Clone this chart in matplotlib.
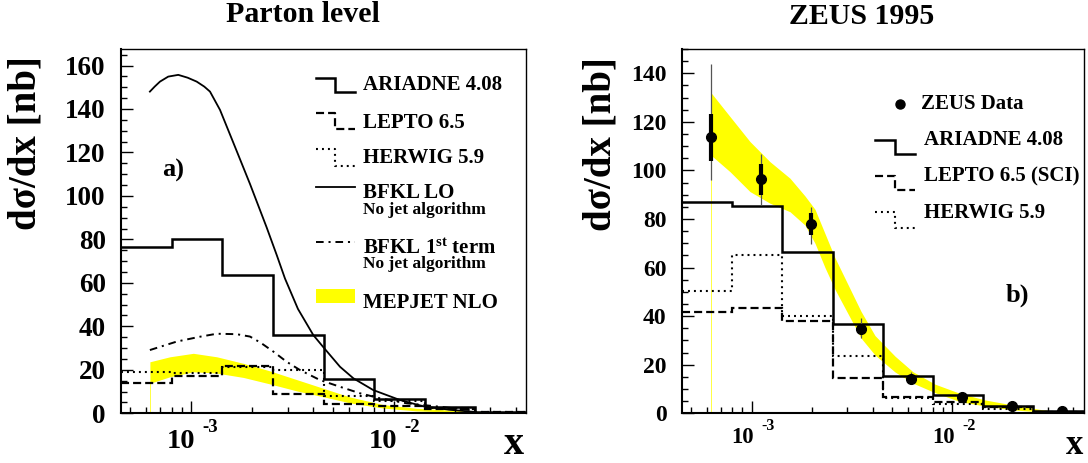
import numpy as np
import matplotlib
matplotlib.use('Agg')
import matplotlib.pyplot as plt
import matplotlib.transforms as mtransforms
from matplotlib.ticker import LogLocator, NullFormatter, MultipleLocator, FixedLocator
from matplotlib.patches import Rectangle

plt.rcParams['font.family'] = ['Liberation Serif', 'DejaVu Serif']
plt.rcParams['font.weight'] = 'bold'
plt.rcParams['mathtext.fontset'] = 'custom'
plt.rcParams['mathtext.rm'] = 'Liberation Serif:bold'
plt.rcParams['mathtext.bf'] = 'Liberation Serif:bold'
plt.rcParams['mathtext.it'] = 'Liberation Serif:italic:bold'
plt.rcParams['lines.scale_dashes'] = False

# ---------------- data ----------------
x_edges = [4.5e-4, 8.0e-4, 1.423e-3, 2.531e-3, 4.5e-3, 8.0e-3, 1.423e-2, 2.531e-2, 4.5e-2]

# panel a) parton level
ariadne_a = [76.7, 80.1, 63.7, 36.2, 15.7, 6.8, 2.7, 0.8]
lepto_a = [14.0, 17.2, 21.8, 8.8, 4.2, 3.2, 1.8, 0.4]
herwig_a = [18.8, 18.6, 21.4, 20.1, 7.8, 5.6, 2.5, 0.5]

bfkl_lo_x = [6.25e-4, 6.60e-4, 7.01e-4, 7.70e-4, 8.63e-4, 9.60e-4, 1.064e-3,
             1.160e-3, 1.238e-3, 1.387e-3, 1.614e-3, 1.951e-3, 2.358e-3, 2.644e-3,
             2.904e-3, 3.366e-3, 4.007e-3, 4.475e-3, 5.43e-3, 6.32e-3, 7.92e-3,
             1.074e-2, 1.40e-2, 1.90e-2, 2.52e-2]
bfkl_lo_y = [148.0, 150.3, 152.6, 154.9, 155.7, 154.4, 152.6, 150.3, 148.0, 139.6,
             124.5, 105.5, 85.5, 72.8, 62.0, 48.0, 36.0, 30.6, 21.4, 16.1, 10.7,
             6.1, 3.2, 1.6, 0.6]

bfkl1_x = [6.25e-4, 8.48e-4, 1.10e-3, 1.336e-3, 1.677e-3, 1.951e-3, 2.20e-3,
           2.543e-3, 2.961e-3, 3.444e-3, 4.323e-3, 5.43e-3, 6.82e-3, 8.55e-3,
           1.159e-2, 1.693e-2, 2.38e-2]
bfkl1_y = [29.1, 33.0, 35.2, 36.6, 36.4, 35.3, 32.5, 28.4, 23.7, 19.9, 15.3, 12.2,
           9.2, 6.9, 4.6, 3.0, 1.5]

mep_a_x = [6.25e-4, 7.85e-4, 1.024e-3, 1.336e-3, 1.808e-3, 2.449e-3, 3.318e-3,
           4.49e-3, 6.08e-3, 8.88e-3, 1.298e-2, 2.29e-2, 3.35e-2]
mep_a_lo = [13.8, 16.8, 19.1, 18.5, 16.5, 13.5, 10.3, 7.6, 4.8, 2.4, 1.1, 0.3, 0.1]
mep_a_hi = [23.7, 26.0, 27.6, 26.0, 23.0, 19.5, 15.5, 11.5, 7.5, 4.0, 2.3, 1.1, 0.5]

# panel b) ZEUS 1995
ariadne_b = [86.9, 85.2, 66.3, 36.8, 15.4, 7.4, 3.2, 1.0]
lepto_b = [41.6, 43.2, 38.1, 14.7, 6.9, 4.8, 2.4, 0.7]
herwig_b = [50.5, 65.2, 40.2, 23.7, 6.5, 3.8, 1.8, 0.5]

data_x = [6.25e-4, 1.112e-3, 1.977e-3, 3.515e-3, 6.25e-3, 1.112e-2, 1.977e-2, 3.515e-2]
data_y = [113.9, 96.3, 77.9, 34.6, 14.1, 6.6, 3.0, 0.9]
stat_lo = [9.9, 6.4, 4.5, 1.5, 0.8, 0.5, 0.3, 0.2]
stat_hi = [9.2, 6.4, 4.5, 1.5, 0.8, 0.5, 0.3, 0.2]
tot_lo = [17.8, 10.5, 8.3, 3.5, 1.5, 0.8, 0.5, 0.3]
tot_hi = [29.9, 10.5, 6.9, 4.5, 3.0, 1.2, 0.7, 0.4]

mep_b_x = [6.25e-4, 7.80e-4, 9.81e-4, 1.234e-3, 1.552e-3, 1.843e-3, 2.068e-3,
           2.319e-3, 2.601e-3, 3.019e-3, 3.504e-3, 4.115e-3, 5.18e-3, 6.36e-3,
           8.19e-3, 1.091e-2, 1.453e-2, 2.002e-2, 2.73e-2, 3.43e-2, 4.47e-2]
mep_b_lo = [106.4, 99.5, 91.3, 86.5, 83.0, 77.5, 70.0, 60.0, 51.0, 41.0, 31.0,
            24.0, 17.0, 12.4, 8.5, 4.8, 3.0, 1.4, 0.6, 0.1, 0.0]
mep_b_hi = [132.2, 122.2, 111.9, 103.6, 96.8, 89.5, 84.0, 74.0, 64.0, 53.0, 42.0,
            32.0, 23.5, 17.1, 12.0, 8.2, 5.5, 3.4, 1.6, 0.7, 0.3]

xtick_vals = [1e-3, 1e-2]
xtick_exp = ['-3', '-2']

# ---------------- figure ----------------
W, H = 1088, 463
fig = plt.figure(figsize=(W / 100, H / 100), dpi=100)


def px_axes(x0, x1, ytop, ybot):
    return fig.add_axes([x0 / W, 1 - ybot / H, (x1 - x0) / W, (ybot - ytop) / H])


axA = px_axes(121, 526, 49, 413.3)
axB = px_axes(682, 1083.6, 49, 413.3)

YEL = '#ffff00'
DASH = (0, (5.8, 2.9))
DOT = (0, (1.4, 2.9))
DASHDOT = (0, (5.5, 3.5, 1.5, 3.5))


def setup(ax, ymax, labsize):
    ax.set_xscale('log')
    ax.set_xlim(x_edges[0], x_edges[-1])
    ax.set_ylim(0, ymax)
    ax.xaxis.set_major_locator(FixedLocator(xtick_vals))
    ax.xaxis.set_minor_locator(LogLocator(base=10, subs=np.arange(2, 10)))
    ax.xaxis.set_major_formatter(NullFormatter())
    ax.xaxis.set_minor_formatter(NullFormatter())
    ax.yaxis.set_major_locator(MultipleLocator(20))
    ax.yaxis.set_minor_locator(MultipleLocator(5))
    ax.tick_params(which='both', direction='in', top=False, right=False, width=1.0)
    ax.tick_params(which='major', length=8.5)
    ax.tick_params(which='minor', length=4)
    ax.tick_params(axis='y', labelsize=labsize, pad=11)
    for lab in ax.get_yticklabels():
        lab.set_fontweight('bold')
    ax.spines['left'].set_linewidth(1.5)
    ax.spines['bottom'].set_linewidth(1.5)
    ax.spines['top'].set_linewidth(1.0)
    ax.spines['right'].set_linewidth(1.0)


setup(axA, 167.6, 19.5)
setup(axB, 150, 17)

# panel a
axA.fill_between(mep_a_x, mep_a_lo, mep_a_hi, color=YEL, lw=0, zorder=1)
axA.vlines(mep_a_x[0], 0, mep_a_lo[0], color='#ffff40', lw=0.7, zorder=1)
axA.stairs(herwig_a, x_edges, baseline=None, color='k', lw=1.5, ls=DOT, zorder=3)
axA.stairs(lepto_a, x_edges, baseline=None, color='k', lw=1.6, ls=DASH, zorder=3)
axA.stairs(ariadne_a, x_edges, baseline=None, color='k', lw=1.8, zorder=4)
axA.plot(bfkl_lo_x, bfkl_lo_y, color='k', lw=1.3, zorder=4)
axA.plot(bfkl1_x, bfkl1_y, color='k', lw=1.4, ls=DASHDOT, zorder=4)

# panel b
axB.fill_between(mep_b_x, mep_b_lo, mep_b_hi, color=YEL, lw=0, zorder=1)
axB.vlines(mep_b_x[0], 0, mep_b_lo[0], color='#ffff40', lw=0.7, zorder=1)
axB.stairs(herwig_b, x_edges, baseline=None, color='k', lw=1.5, ls=DOT, zorder=3)
axB.stairs(lepto_b, x_edges, baseline=None, color='k', lw=1.6, ls=DASH, zorder=3)
axB.stairs(ariadne_b, x_edges, baseline=None, color='k', lw=1.8, zorder=4)
axB.errorbar(data_x, data_y, yerr=[tot_lo, tot_hi], fmt='none', ecolor='#555555',
             elinewidth=0.9, capsize=0, zorder=5)
axB.errorbar(data_x, data_y, yerr=[stat_lo, stat_hi], fmt='none', ecolor='k',
             elinewidth=3.0, capsize=0, zorder=6)
axB.plot(data_x, data_y, 'o', color='k', ms=7, zorder=7)

# ---------------- overlay for text & legends ----------------
ov = fig.add_axes([0, 0, 1, 1])
ov.set_xlim(0, W)
ov.set_ylim(H, 0)
ov.axis('off')
ov.patch.set_visible(False)


def xticklabels(ax, dx10, dxe, y10, ye, s10, se):
    for xv, ex in zip(xtick_vals, xtick_exp):
        base = mtransforms.blended_transform_factory(ax.transData, ov.transData)
        t1 = base + mtransforms.ScaledTranslation(dx10 / 100, 0, fig.dpi_scale_trans)
        t2 = base + mtransforms.ScaledTranslation(dxe / 100, 0, fig.dpi_scale_trans)
        ax.text(xv, y10, '10', transform=t1, ha='right', va='center', fontsize=s10,
                fontweight='bold', clip_on=False)
        ax.text(xv, ye, ex, transform=t2, ha='left', va='center', fontsize=se,
                fontweight='bold', clip_on=False)


xticklabels(axA, 4, 11, 441.5, 427.5, 20.5, 13.5)
xticklabels(axB, 2, 10, 437.5, 426.5, 16.3, 11.5)

# titles
ov.text(302.6, 15, 'Parton level', fontsize=21.5, ha='center', va='center')
ov.text(862, 16, 'ZEUS 1995', fontsize=21.5, ha='center', va='center')

# y labels
ov.text(26, 143.5, 'dσ/dx [nb]', rotation=90, fontsize=28, ha='center', va='center')
ov.text(601, 144.5, 'dσ/dx [nb]', rotation=90, fontsize=28, ha='center', va='center')

# x labels
ov.text(524, 462.5, 'x', fontsize=29, ha='right', va='bottom')
ov.text(1083, 462.5, 'x', fontsize=25, ha='right', va='bottom')

# panel labels
ov.text(173, 170, 'a)', fontsize=19, ha='center', va='center')
ov.text(1017, 295, 'b)', fontsize=19, ha='center', va='center')


def step_sample(x0, xm, x1, yt, yb, ls, lw):
    ov.plot([x0, xm, xm, x1], [yt, yt, yb, yb], color='k', lw=lw, ls=ls,
            solid_joinstyle='miter')


LS = 15
# legend a
step_sample(315.5, 334.5, 355, 78.3, 92.3, '-', 1.8)
ov.text(363.3, 85, 'ARIADNE 4.08', fontsize=LS, ha='left', va='center')
step_sample(315.5, 334.5, 355, 113.3, 129.3, DASH, 1.6)
ov.text(363.3, 122.5, 'LEPTO 6.5', fontsize=LS, ha='left', va='center')
step_sample(315.5, 334.5, 355, 149.3, 166, DOT, 1.5)
ov.text(363.3, 158.3, 'HERWIG 5.9', fontsize=LS, ha='left', va='center')
ov.plot([315.5, 355], [186.7, 186.7], color='k', lw=1.3)
ov.text(363.3, 193, 'BFKL LO', fontsize=LS, ha='left', va='center')
ov.text(363.3, 210, 'No jet algorithm', fontsize=12.5, ha='left', va='center')
ov.plot([315.5, 355], [241.7, 241.7], color='k', lw=1.4, ls=DASHDOT)
ov.text(363.3, 248.5, r'BFKL 1$^{\mathrm{st}}$ term', fontsize=LS, ha='left', va='center')
ov.text(363.3, 264.5, 'No jet algorithm', fontsize=12.5, ha='left', va='center')
ov.add_patch(Rectangle((315.5, 289.3), 39.5, 14, color=YEL, lw=0))
ov.text(363.3, 303.3, 'MEPJET NLO', fontsize=LS, ha='left', va='center')

# legend b
ov.plot([899.5], [104.3], 'o', color='k', ms=6.5)
ov.text(920.9, 104.3, 'ZEUS Data', fontsize=LS, ha='left', va='center')
step_sample(875, 895, 914.7, 140, 154, '-', 1.8)
ov.text(923.6, 140, 'ARIADNE 4.08', fontsize=LS, ha='left', va='center')
step_sample(875, 895, 914.7, 176, 190, DASH, 1.6)
ov.text(923.6, 176.7, 'LEPTO 6.5 (SCI)', fontsize=LS, ha='left', va='center')
step_sample(875, 895, 914.7, 211.7, 227.7, DOT, 1.5)
ov.text(923.6, 212.7, 'HERWIG 5.9', fontsize=LS, ha='left', va='center')

fig.savefig('out.png', dpi=100)
